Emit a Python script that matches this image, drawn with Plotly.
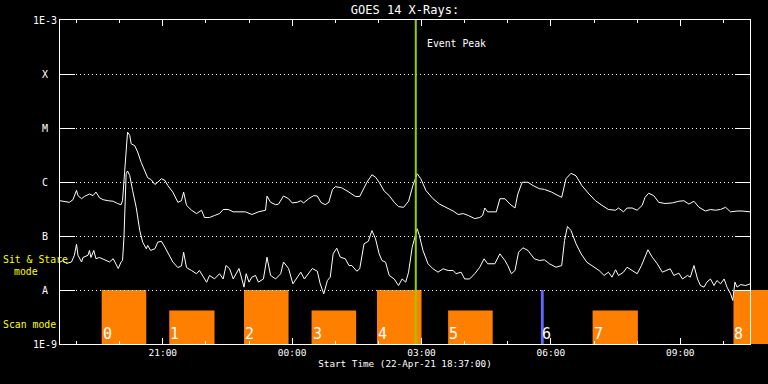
import numpy as np
import pandas as pd
import plotly.graph_objects as go

# ---------------- data ----------------
start_time = "2021-04-22 18:37:00"
end_time = "2021-04-23 10:37:00"
peak_time = "2021-04-23 02:52:00"

# GOES long channel (1-8 A), minutes after start, flux W/m^2
long_minutes = [0, 13, 18, 23, 25, 30, 34, 41, 46, 50,
                55, 60, 67, 74, 80, 85, 87, 90, 92, 94,
                97, 99, 104, 108, 113, 118, 122, 127, 132, 136,
                141, 146, 150, 157, 164, 169, 172, 176, 183, 190,
                197, 201, 208, 215, 222, 227, 234, 241, 246, 258,
                267, 276, 286, 288, 293, 300, 304, 311, 318, 323,
                330, 335, 339, 346, 353, 358, 363, 369, 374, 379,
                383, 392, 402, 411, 417, 423, 427, 434, 439, 444,
                451, 458, 465, 471, 478, 485, 491, 497, 502, 509,
                519, 528, 537, 547, 554, 561, 568, 577, 584, 588,
                591, 595, 607, 612, 619, 626, 633, 637, 643, 651,
                658, 667, 674, 684, 693, 698, 704, 711, 718, 726,
                736, 745, 754, 763, 773, 777, 784, 789, 796, 803,
                810, 814, 819, 826, 833, 842, 852, 861, 868, 875,
                882, 889, 898, 905, 912, 919, 926, 933, 942, 949,
                960]
long_flux = [4.5e-7, 4.2e-7, 4.7e-7, 7.0e-7, 5.6e-7, 4.9e-7, 5.4e-7, 6.0e-7, 5.6e-7, 6.5e-7,
             5.1e-7, 4.7e-7, 4.5e-7, 4.4e-7, 4.0e-7, 3.8e-7, 4.5e-7, 1.6e-6, 5.1e-6, 8.4e-6,
             7.3e-6, 5.1e-6, 4.7e-6, 3.6e-6, 2.3e-6, 1.6e-6, 1.2e-6, 1.1e-6, 9.0e-7, 9.9e-7,
             1.15e-6, 1.07e-6, 8.6e-7, 6.5e-7, 4.2e-7, 4.5e-7, 6.5e-7, 3.7e-7, 3.0e-7, 2.6e-7,
             3.0e-7, 2.2e-7, 2.2e-7, 2.4e-7, 2.6e-7, 3.1e-7, 3.1e-7, 2.8e-7, 2.8e-7, 2.8e-7,
             2.5e-7, 2.8e-7, 3.0e-7, 5.5e-7, 4.2e-7, 3.8e-7, 3.9e-7, 5.5e-7, 4.9e-7, 4.1e-7,
             4.2e-7, 4.5e-7, 4.1e-7, 4.9e-7, 5.6e-7, 5.5e-7, 4.2e-7, 3.8e-7, 4.2e-7, 7.2e-7,
             8.2e-7, 7.8e-7, 6.5e-7, 5.4e-7, 5.4e-7, 8.0e-7, 9.9e-7, 1.36e-6, 1.23e-6, 9.9e-7,
             6.8e-7, 5.6e-7, 4.2e-7, 3.5e-7, 3.4e-7, 4.4e-7, 8.6e-7, 1.42e-6, 1.15e-6, 7.0e-7,
             4.9e-7, 3.9e-7, 3.4e-7, 2.9e-7, 2.5e-7, 2.6e-7, 2.4e-7, 2.1e-7, 2.2e-7, 2.4e-7,
             3.3e-7, 2.8e-7, 2.8e-7, 4.9e-7, 4.9e-7, 3.9e-7, 3.3e-7, 6.0e-7, 9.9e-7, 9.9e-7,
             8.6e-7, 7.5e-7, 7.3e-7, 6.5e-7, 5.6e-7, 5.2e-7, 1.15e-6, 1.45e-6, 1.3e-6, 8.6e-7,
             6.0e-7, 4.5e-7, 3.7e-7, 3.1e-7, 3.0e-7, 3.3e-7, 2.8e-7, 3.3e-7, 3.3e-7, 3.0e-7,
             3.7e-7, 5.2e-7, 6.2e-7, 5.6e-7, 4.2e-7, 4.0e-7, 4.1e-7, 4.4e-7, 4.5e-7, 3.9e-7,
             4.4e-7, 3.4e-7, 2.9e-7, 3.1e-7, 3.0e-7, 3.1e-7, 3.4e-7, 2.8e-7, 2.9e-7, 2.9e-7,
             2.8e-7]

# GOES short channel (0.5-4 A)
short_minutes = [0, 4, 9, 16, 20, 23, 25, 30, 32, 39,
                 41, 43, 47, 50, 55, 62, 69, 74, 78, 81,
                 85, 87, 89, 91, 92, 94, 97, 101, 106, 111,
                 115, 120, 122, 126, 132, 136, 141, 146, 150, 157,
                 164, 169, 172, 176, 183, 190, 194, 199, 204, 208,
                 215, 222, 227, 231, 236, 241, 249, 253, 256, 259,
                 263, 267, 272, 276, 283, 288, 293, 300, 307, 311,
                 318, 324, 330, 335, 340, 346, 351, 358, 362, 367,
                 372, 376, 380, 385, 390, 397, 402, 406, 413, 417,
                 423, 429, 434, 439, 444, 448, 453, 458, 465, 471,
                 476, 481, 485, 490, 493, 497, 500, 505, 512, 519,
                 526, 533, 540, 547, 551, 558, 563, 570, 577, 584,
                 590, 595, 605, 612, 619, 623, 628, 633, 638, 644,
                 651, 660, 667, 674, 681, 690, 698, 702, 706, 711,
                 718, 725, 733, 740, 750, 757, 763, 768, 773, 777,
                 784, 789, 796, 803, 809, 814, 818, 824, 831, 838,
                 845, 849, 854, 861, 866, 873, 877, 882, 887, 891,
                 896, 900, 905, 910, 914, 919, 924, 928, 933, 936,
                 939, 942, 947, 954, 960]
short_flux = [3.3e-8, 3.5e-8, 3.1e-8, 3.3e-8, 4.4e-8, 7.0e-8, 4.4e-8, 3.3e-8, 4.0e-8, 4.4e-8,
              5.4e-8, 4.0e-8, 5.4e-8, 3.8e-8, 4.0e-8, 3.6e-8, 3.3e-8, 3.8e-8, 3.1e-8, 2.5e-8,
              3.3e-8, 3.5e-8, 9.5e-8, 1.07e-6, 1.42e-6, 1.6e-6, 1.32e-6, 7.0e-7, 3.4e-7, 1.26e-7,
              7.7e-8, 5.8e-8, 6.7e-8, 5.4e-8, 5.8e-8, 7.7e-8, 8.0e-8, 6.2e-8, 4.8e-8, 3.3e-8,
              2.6e-8, 2.8e-8, 5.0e-8, 2.6e-8, 2.3e-8, 2.0e-8, 2.3e-8, 1.73e-8, 1.39e-8, 1.86e-8,
              1.61e-8, 2.0e-8, 1.6e-8, 2.84e-8, 2.47e-8, 1.6e-8, 2.5e-8, 1.6e-8, 1.13e-8, 2.0e-8,
              1.4e-8, 1.73e-8, 1.86e-8, 1.4e-8, 1.6e-8, 4.05e-8, 1.86e-8, 1.6e-8, 2.0e-8, 3.3e-8,
              2.5e-8, 1.3e-8, 1.73e-8, 2.14e-8, 1.6e-8, 2.0e-8, 2.5e-8, 2.23e-8, 1.3e-8, 8.5e-9,
              1.5e-8, 1.73e-8, 4.68e-8, 5.94e-8, 4.05e-8, 3.78e-8, 2.84e-8, 2.84e-8, 2.23e-8, 2.47e-8,
              7.17e-8, 8.0e-8, 1.26e-7, 8.87e-8, 4.68e-8, 3.52e-8, 3.27e-8, 1.86e-8, 1.6e-8, 1.21e-8,
              1.6e-8, 1.4e-8, 2.14e-8, 6.2e-8, 8.87e-8, 1.36e-7, 1.02e-7, 5.4e-8, 3.06e-8, 2.47e-8,
              2.14e-8, 2.47e-8, 2.3e-8, 2.3e-8, 2.0e-8, 2.14e-8, 1.6e-8, 1.6e-8, 2.0e-8, 2.64e-8,
              3.78e-8, 3.06e-8, 3.06e-8, 4.68e-8, 3.52e-8, 2.84e-8, 2.0e-8, 2.3e-8, 5.0e-8, 6.05e-8,
              5.4e-8, 3.78e-8, 3.52e-8, 3.62e-8, 3.06e-8, 2.64e-8, 2.84e-8, 8.24e-8, 1.5e-7, 1.26e-7,
              7.17e-8, 4.68e-8, 3.27e-8, 2.84e-8, 2.3e-8, 1.86e-8, 2.14e-8, 1.73e-8, 2.37e-8, 1.86e-8,
              2.14e-8, 2.64e-8, 2.3e-8, 2.0e-8, 2.84e-8, 4.05e-8, 5.55e-8, 4.05e-8, 3.06e-8, 2.14e-8,
              2.3e-8, 2.47e-8, 1.86e-8, 2.05e-8, 1.6e-8, 1.86e-8, 1.73e-8, 2.84e-8, 1.6e-8, 1.21e-8,
              1.13e-8, 1.4e-8, 1.6e-8, 1.21e-8, 1.5e-8, 1.3e-8, 1.6e-8, 1.13e-8, 8.5e-9, 6.4e-9,
              1.4e-8, 1.13e-8, 1.26e-8, 1.21e-8, 1.3e-8]

# observing blocks
scan_labels = ["0", "1", "2", "3", "4", "5", "6", "7", "8"]
scan_start = ["2021-04-22 19:35", "2021-04-22 21:09", "2021-04-22 22:53",
              "2021-04-23 00:27", "2021-04-23 01:58", "2021-04-23 03:37",
              "2021-04-23 05:46", "2021-04-23 06:58", "2021-04-23 10:14"]
scan_end = ["2021-04-22 20:37", "2021-04-22 22:12", "2021-04-22 23:55",
            "2021-04-23 01:29", "2021-04-23 03:00", "2021-04-23 04:39",
            "2021-04-23 05:50", "2021-04-23 08:01", "2021-04-23 11:40"]
scan_level = [1.0, 0.62, 1.0, 0.62, 1.0, 0.62, 1.0, 0.62, 1.0]
scan_color = ["#ff8000", "#ff8000", "#ff8000", "#ff8000", "#ff8000",
              "#ff8000", "#6464ff", "#ff8000", "#ff8000"]

decade_vals = [1e-9, 1e-8, 1e-7, 1e-6, 1e-5, 1e-4, 1e-3]
decade_text = ["1E-9", "", "", "", "", "", "1E-3"]
class_vals = [1e-8, 1e-7, 1e-6, 1e-5, 1e-4]
class_text = ["A", "B", "C", "M", "X"]

# ---------------- figure ----------------
FONT = "DejaVu Sans Mono"
t0 = pd.Timestamp(start_time)
t1 = pd.Timestamp(end_time)
dom = 690 / 708
ext_end = t0 + (t1 - t0) / dom

long_t = t0 + pd.to_timedelta(long_minutes, unit="m")
short_t = t0 + pd.to_timedelta(short_minutes, unit="m")
s_ts = pd.to_datetime(scan_start)
e_ts = pd.to_datetime(scan_end)
mids = s_ts + (e_ts - s_ts) / 2
widths = [(e - s).total_seconds() * 1000 for s, e in zip(s_ts, e_ts)]

fig = go.Figure()
fig.add_trace(go.Bar(x=mids, y=scan_level, width=widths, marker_color=scan_color,
                     marker_line_width=0, xaxis="x", yaxis="y", hoverinfo="skip"))
fig.add_trace(go.Scatter(x=long_t, y=long_flux, mode="lines",
                         line=dict(color="white", width=1), xaxis="x2", yaxis="y2"))
fig.add_trace(go.Scatter(x=short_t, y=short_flux, mode="lines",
                         line=dict(color="white", width=1), xaxis="x2", yaxis="y2"))
fig.add_trace(go.Scatter(x=[peak_time, peak_time], y=[decade_vals[0], decade_vals[-1]],
                         mode="lines", line=dict(color="#99cc00", width=2),
                         xaxis="x2", yaxis="y3"))

annotations = []
for lab, s in zip(scan_labels, s_ts):
    annotations.append(dict(x=s, y=0, xref="x", yref="y", text=lab, showarrow=False,
                            xanchor="left", yanchor="bottom", xshift=-1, yshift=-1,
                            font=dict(family=FONT, size=15, color="white")))
annotations.append(dict(x=peak_time, y=np.log10(3.7e-4), xref="x2", yref="y2",
                        text="Event Peak", showarrow=False, xanchor="left",
                        yanchor="middle", xshift=9,
                        font=dict(family=FONT, size=9.8, color="white")))
for txt, px, py in [("Sit & Stare", 1, 259), ("mode", 12, 271), ("Scan mode", 1, 324)]:
    annotations.append(dict(x=(px - 60) / 708, y=(344 - py) / 324, xref="paper", yref="paper",
                            text=txt, showarrow=False, xanchor="left", yanchor="middle",
                            font=dict(family=FONT, size=9.8, color="#ffff00")))

fig.update_layout(
    template="none",
    width=768, height=384,
    margin=dict(l=60, r=0, t=20, b=40),
    paper_bgcolor="black", plot_bgcolor="rgba(0,0,0,0)",
    font=dict(family=FONT, size=9.5, color="white"),
    showlegend=False, hovermode=False,
    title=dict(text="GOES 14 X-Rays:", x=dom / 2, xref="paper", xanchor="center",
               y=1 - 9.5 / 384, yref="container", yanchor="middle",
               font=dict(family=FONT, size=12, color="white")),
    xaxis=dict(domain=[0, 1], range=[t0, ext_end], anchor="y", visible=False, type="date"),
    yaxis=dict(domain=[0, 1 / 6], range=[0, 1], anchor="x", visible=False),
    xaxis2=dict(domain=[0, dom], range=[t0, t1], anchor="y2", type="date",
                showline=True, linecolor="white", linewidth=1, mirror="ticks",
                ticks="inside", ticklen=6, tickwidth=1, tickcolor="white",
                dtick=3 * 3600 * 1000, tick0="2021-04-22 00:00", tickformat="%H:%M",
                tickfont=dict(family=FONT, size=9.5, color="white"),
                showgrid=False, zeroline=False, automargin=False,
                minor=dict(dtick=3600 * 1000, tick0="2021-04-22 00:00", ticks="inside",
                           ticklen=3, tickwidth=1, tickcolor="white", showgrid=False),
                title=dict(text="Start Time (22-Apr-21 18:37:00)", standoff=3,
                           font=dict(family=FONT, size=9.3, color="white"))),
    yaxis2=dict(domain=[0, 1], type="log", range=[-9, -3], anchor="x2",
                showline=True, linecolor="white", linewidth=1, mirror="ticks",
                ticks="inside", ticklen=15, tickwidth=1, tickcolor="white",
                tickvals=decade_vals, ticktext=decade_text,
                tickfont=dict(family=FONT, size=10, color="white"),
                showgrid=True, gridcolor="white", gridwidth=1, griddash="1px,3px",
                zeroline=False, automargin=False),
    yaxis3=dict(overlaying="y2", anchor="x2", type="log", range=[-9, -3],
                tickvals=class_vals, ticktext=class_text, ticks="", showline=False,
                showgrid=False, zeroline=False, ticklabelstandoff=11,
                tickfont=dict(family=FONT, size=10, color="white"), automargin=False),
    annotations=annotations,
)

fig.write_html("out.html", config={"displayModeBar": False},
               post_script="document.body.style.margin='0';")
